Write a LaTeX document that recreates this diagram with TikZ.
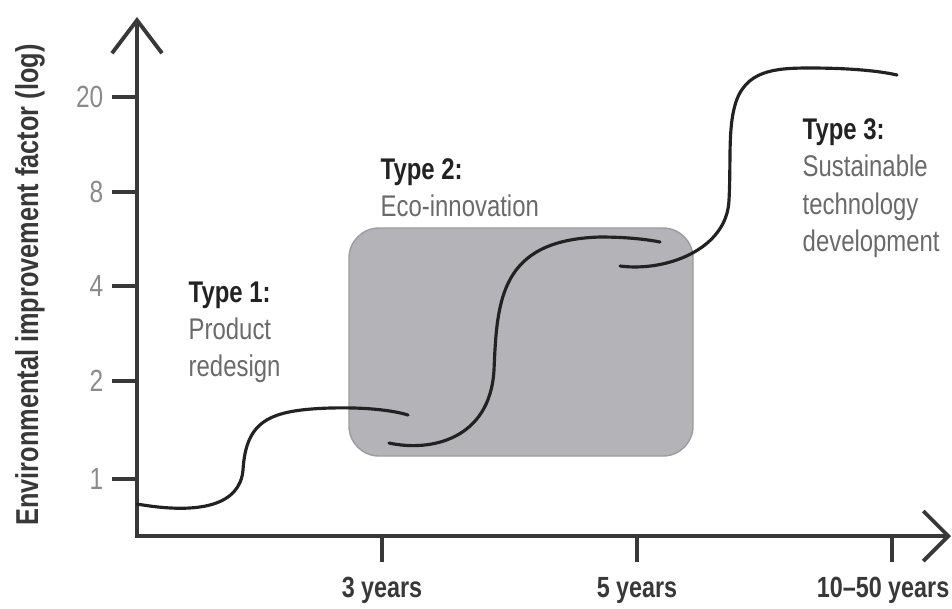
\documentclass[tikz,border=0pt]{standalone}
\usepackage{fontspec}
\setmainfont[FakeStretch=0.8]{Liberation Sans}
\usepackage{xcolor}
\usepackage{tikz}
\usetikzlibrary{arrows.meta, positioning}

\definecolor{boxgray}{HTML}{B4B4B8}
\definecolor{boxedge}{HTML}{9C9CA0}
\definecolor{inkdark}{HTML}{222222}
\definecolor{textgray}{HTML}{6A6A6A}
\definecolor{tickgray}{HTML}{8A8A8A}

\begin{document}
\begin{tikzpicture}[
    x=0.01cm, y=-0.01cm,
    every node/.style={inner sep=0pt},
    axis/.style={line width=1.1pt, draw=inkdark!90},
    tick/.style={line width=1pt, draw=inkdark!90},
    curve/.style={line width=0.9pt, draw=inkdark, line cap=round},
    phase/.style={fill=boxgray, draw=boxedge, line width=0.4pt, rounded corners=0.3cm},
    typelabel/.style={align=left, anchor=north west, text=textgray, font=\fontsize{8.5}{10.6}\selectfont},
    ylabel/.style={text=tickgray, anchor=east, font=\fontsize{8.7}{10}\selectfont},
    xlabel/.style={text=inkdark!90, anchor=base, font=\fontsize{8.3}{10}\selectfont\bfseries}
]
\useasboundingbox (0,0) rectangle (952,608);

% Eco-innovation band
\draw[phase] (349,228) rectangle (693,456);

% Axes
\coordinate (origin) at (137,536);
\coordinate (ytop) at (137,17);
\coordinate (xend) at (951,536);
\draw[axis, {Straight Barb[length=3.3mm,width=5mm]}-{Straight Barb[length=2.5mm,width=5mm]}]
    (ytop) -- (origin) -- (xend);

% y ticks (log scale)
\foreach \val/\yy in {20/97, 8/192, 4/286, 2/381, 1/479} {
    \draw[tick] (112,\yy) -- (137,\yy);
    \node[ylabel] (ytick\val) at (104,\yy) {\val};
}

% x ticks
\foreach \xx in {382, 637, 892}
    \draw[tick] (\xx,536) -- (\xx,562);
\node[xlabel] (xticka) at (382,597) {3 years};
\node[xlabel] (xtickb) at (637,597) {5 years};
\node[xlabel, anchor=base east] (xtickc) at (950,597) {10--50 years};

\node[rotate=90, text=inkdark!90, font=\fontsize{9}{10}\selectfont\bfseries] (yname) at (30,285)
    {Environmental improvement factor (log)};

% Type 1 curve
\draw[curve] (137,504) .. controls (200,515) and (240,505) .. (243,470)
    .. controls (246,420) and (270,410) .. (330,408)
    .. controls (370,407) and (395,411) .. (408,415);

% Type 2 curve
\draw[curve] (389,443) .. controls (430,452) and (490,440) .. (494,370)
    .. controls (497,300) and (500,240) .. (600,237)
    .. controls (630,237) and (650,240) .. (660,242);

% Type 3 curve
\draw[curve] (620,266) .. controls (665,272) and (727,250) .. (729,200)
    .. controls (731,160) and (728,130) .. (735,105)
    .. controls (745,70) and (775,68) .. (810,68)
    .. controls (850,68) and (880,71) .. (897,75);

% Labels
\node[typelabel] (type1) at (188,281) {{\color{inkdark}\bfseries Type 1:}\\Product\\redesign};
\node[typelabel] (type2) at (380,158) {{\color{inkdark}\bfseries Type 2:}\\Eco-innovation};
\node[typelabel] (type3) at (802,118) {{\color{inkdark}\bfseries Type 3:}\\Sustainable\\technology\\development};

\end{tikzpicture}
\end{document}
